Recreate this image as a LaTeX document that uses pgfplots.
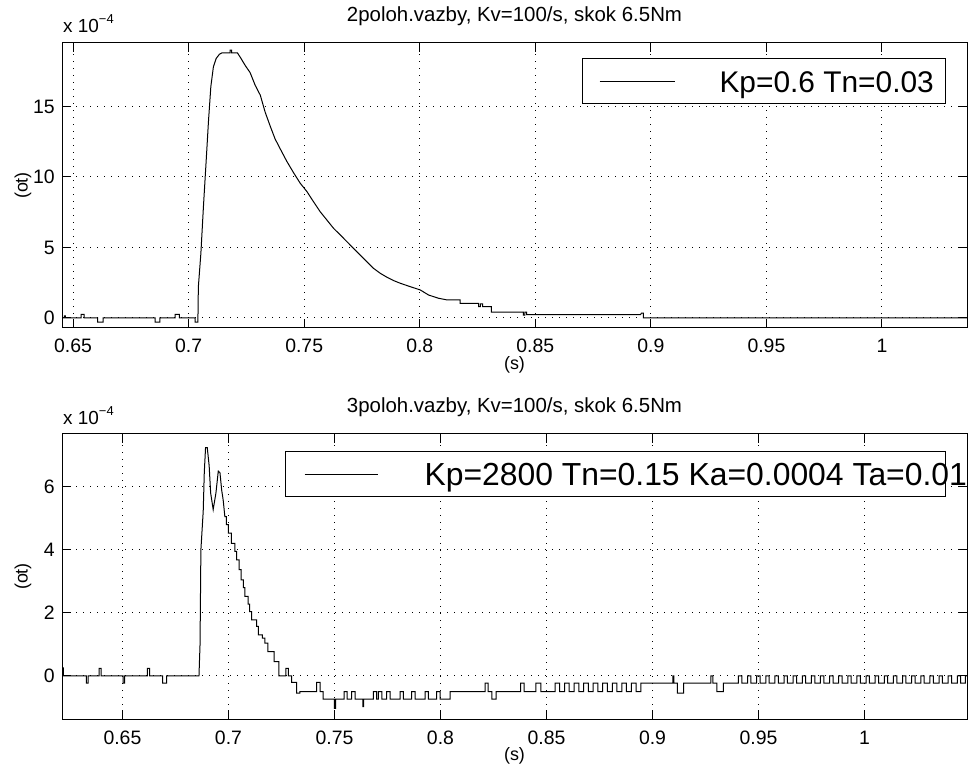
\documentclass[border=0pt]{standalone}
\usepackage{pgfplots}
\pgfplotsset{compat=1.18}
\usepackage{fontspec}
\setmainfont{Liberation Sans}
\newcommand\fs[1]{\fontsize{#1}{#1}\selectfont}

\pgfplotstableread{
x y
0.6452 0
0.6462 0
0.6462 0.15
0.6467 0.15
0.6467 0
0.6535 0
0.6535 0.25
0.6548 0.25
0.6548 0
0.6606 0
0.6606 -0.3
0.6630 -0.3
0.6630 0
0.6855 0
0.6855 -0.3
0.6875 -0.3
0.6875 0
0.6942 0
0.6942 0.25
0.6960 0.25
0.6960 0
0.7028 0
0.7028 -0.3
0.7040 -0.3
0.7042 2.2
0.7053 4.6
0.7064 7.9
0.7076 11.2
0.7086 14.0
0.7096 16.4
0.7107 17.8
0.7119 18.4
0.7133 18.7
0.7144 18.8
0.7180 18.8
0.7180 19.0
0.7186 19.0
0.7186 18.8
0.7211 18.8
0.7223 18.5
0.7245 17.9
0.7266 17.4
0.7288 16.5
0.7310 15.8
0.7331 14.6
0.7353 13.6
0.7374 12.7
0.7396 12.0
0.7425 11.1
0.7454 10.3
0.7483 9.55
0.7512 8.96
0.7540 8.25
0.7569 7.54
0.7598 6.95
0.7627 6.36
0.7656 5.89
0.7685 5.41
0.7713 4.94
0.7742 4.47
0.7771 3.99
0.7800 3.52
0.7829 3.17
0.7858 2.89
0.7887 2.65
0.7916 2.46
0.7959 2.22
0.8002 1.99
0.8038 1.63
0.8081 1.40
0.8118 1.28
0.8175 1.28
0.8175 1.04
0.8255 1.04
0.8255 0.80
0.8262 0.80
0.8262 1.00
0.8272 1.00
0.8272 0.80
0.8310 0.80
0.8310 0.42
0.8448 0.42
0.8448 0.20
0.8455 0.20
0.8455 0.42
0.8462 0.42
0.8462 0.24
0.8955 0.24
0.8960 0.35
0.8968 0.35
0.8968 0
1.0368 0
}\topdata

\pgfplotstableread{
x y
0.6215 0.25
0.6222 0.25
0.6222 0
0.6330 0
0.6330 -0.23
0.6338 -0.23
0.6338 0
0.6390 0
0.6390 0.24
0.6400 0.24
0.6400 0
0.6503 0
0.6503 -0.23
0.6510 -0.23
0.6510 0
0.6618 0
0.6618 0.24
0.6628 0.24
0.6628 0
0.6690 0
0.6690 -0.23
0.6708 -0.23
0.6708 0
0.6861 0
0.6866 1.0
0.6870 4.0
0.6881 5.23
0.6886 6.45
0.6892 7.25
0.6900 7.25
0.6909 6.67
0.6916 5.81
0.6928 5.28
0.6941 5.81
0.6952 6.5
0.6960 6.45
0.6968 5.90
0.6975 5.59
0.6983 5.06
0.6990 5.06
0.6990 4.80
0.7000 4.80
0.7000 4.53
0.7014 4.53
0.7014 4.21
0.7030 4.21
0.7030 3.95
0.7038 3.95
0.7038 3.68
0.7050 3.68
0.7050 3.37
0.7060 3.37
0.7060 3.05
0.7070 3.05
0.7070 2.80
0.7078 2.80
0.7078 2.52
0.7093 2.52
0.7093 2.28
0.7100 2.28
0.7100 2.04
0.7109 2.04
0.7109 1.78
0.7133 1.78
0.7133 1.57
0.7141 1.57
0.7141 1.30
0.7160 1.30
0.7160 1.20
0.7172 1.20
0.7172 1.04
0.7186 1.04
0.7186 0.77
0.7215 0.77
0.7215 0.45
0.7238 0.45
0.7238 0
0.7271 0
0.7271 0.24
0.7282 0.24
0.7282 0
0.7298 0
0.7298 -0.21
0.7322 -0.21
0.7322 -0.55
0.7337 -0.55
0.7337 -0.5
0.7416 -0.5
0.7416 -0.21
0.7432 -0.21
0.7432 -0.5
0.7447 -0.5
0.7447 -0.74
0.7500 -0.74
0.7500 -1.03
0.7505 -1.03
0.7505 -0.74
0.7545 -0.74
0.7545 -0.5
0.7560 -0.5
0.7560 -0.74
0.7581 -0.74
0.7581 -0.5
0.7597 -0.5
0.7597 -0.74
0.7634 -0.74
0.7634 -0.98
0.7638 -0.98
0.7638 -0.74
0.7683 -0.74
0.7683 -0.5
0.7699 -0.5
0.7699 -0.74
0.7707 -0.74
0.7707 -0.5
0.7723 -0.5
0.7723 -0.74
0.7746 -0.74
0.7746 -0.5
0.7762 -0.5
0.7762 -0.74
0.7809 -0.74
0.7809 -0.5
0.7825 -0.5
0.7825 -0.74
0.7864 -0.74
0.7864 -0.5
0.7880 -0.5
0.7880 -0.74
0.7927 -0.74
0.7927 -0.5
0.7943 -0.5
0.7943 -0.74
0.7982 -0.74
0.7982 -0.5
0.7998 -0.5
0.7998 -0.74
0.8045 -0.74
0.8045 -0.5
0.8210 -0.5
0.8210 -0.23
0.8224 -0.23
0.8224 -0.5
0.8242 -0.5
0.8242 -0.74
0.8262 -0.74
0.8262 -0.5
0.8378 -0.5
0.8378 -0.23
0.8394 -0.23
0.8394 -0.5
0.8450 -0.5
0.8450 -0.23
0.8473 -0.23
0.8473 -0.5
0.8540 -0.5
0.8540 -0.23
0.8562 -0.23
0.8562 -0.5
0.8585 -0.5
0.8585 -0.23
0.8607 -0.23
0.8607 -0.5
0.8630 -0.5
0.8630 -0.23
0.8652 -0.23
0.8652 -0.5
0.8675 -0.5
0.8675 -0.23
0.8697 -0.23
0.8697 -0.5
0.8720 -0.5
0.8720 -0.23
0.8742 -0.23
0.8742 -0.5
0.8765 -0.5
0.8765 -0.23
0.8787 -0.23
0.8787 -0.5
0.8810 -0.5
0.8810 -0.23
0.8832 -0.23
0.8832 -0.5
0.8855 -0.5
0.8855 -0.23
0.8877 -0.23
0.8877 -0.5
0.8900 -0.5
0.8900 -0.23
0.8922 -0.23
0.8922 -0.5
0.8945 -0.5
0.8945 -0.23
0.9096 -0.23
0.9096 0
0.9101 0
0.9101 -0.23
0.9117 -0.23
0.9117 -0.55
0.9147 -0.55
0.9147 -0.23
0.9275 -0.23
0.9275 0
0.9285 0
0.9285 -0.23
0.9303 -0.23
0.9303 -0.5
0.9334 -0.5
0.9334 -0.23
0.9405 -0.23
0.9405 0
0.9421 0
0.9421 -0.23
0.9448 -0.23
0.9448 0
0.9464 0
0.9464 -0.23
0.9491 -0.23
0.9491 0
0.9507 0
0.9507 -0.23
0.9534 -0.23
0.9534 0
0.9550 0
0.9550 -0.23
0.9577 -0.23
0.9577 0
0.9593 0
0.9593 -0.23
0.9620 -0.23
0.9620 0
0.9636 0
0.9636 -0.23
0.9663 -0.23
0.9663 0
0.9679 0
0.9679 -0.23
0.9706 -0.23
0.9706 0
0.9722 0
0.9722 -0.23
0.9749 -0.23
0.9749 0
0.9765 0
0.9765 -0.23
0.9792 -0.23
0.9792 0
0.9808 0
0.9808 -0.23
0.9835 -0.23
0.9835 0
0.9851 0
0.9851 -0.23
0.9878 -0.23
0.9878 0
0.9894 0
0.9894 -0.23
0.9921 -0.23
0.9921 0
0.9937 0
0.9937 -0.23
0.9964 -0.23
0.9964 0
0.9980 0
0.9980 -0.23
1.0007 -0.23
1.0007 0
1.0023 0
1.0023 -0.23
1.0050 -0.23
1.0050 0
1.0066 0
1.0066 -0.23
1.0093 -0.23
1.0093 0
1.0109 0
1.0109 -0.23
1.0136 -0.23
1.0136 0
1.0152 0
1.0152 -0.23
1.0179 -0.23
1.0179 0
1.0195 0
1.0195 -0.23
1.0222 -0.23
1.0222 0
1.0238 0
1.0238 -0.23
1.0265 -0.23
1.0265 0
1.0281 0
1.0281 -0.23
1.0308 -0.23
1.0308 0
1.0324 0
1.0324 -0.23
1.0351 -0.23
1.0351 0
1.0367 0
1.0367 -0.23
1.0394 -0.23
1.0394 0
1.0410 0
1.0410 -0.23
1.0437 -0.23
1.0437 0
1.0453 0
1.0453 -0.23
1.0475 -0.23
1.0475 0
1.0483 0
}\botdata

\pgfplotsset{
  matstyle/.style={
    scale only axis, width=905bp, height=285bp,
    anchor=south west,
    axis line style={line width=1bp, black},
    every tick/.style={line width=1bp, black},
    major tick length=9bp,
    tick align=inside,
    xtick pos=both, ytick pos=both,
    grid=major,
    major grid style={line width=1bp, black, dash pattern=on 1.4bp off 5.6bp},
    xtick={0.65,0.7,0.75,0.8,0.85,0.9,0.95,1},
    xticklabels={0.65,0.7,0.75,0.8,0.85,0.9,0.95,1},
    tick label style={font=\fs{19.5}},
    xticklabel style={anchor=base, yshift=-25bp},
    yticklabel style={anchor=east, inner sep=0bp, xshift=-7bp},
    label style={font=\fs{18}},
    xlabel={(s)},
    xlabel style={at={(axis description cs:0.5,-0.13)}, anchor=center},
    ylabel={(ot)},
    ylabel style={at={(axis description cs:-0.043,0.5)}, anchor=center},
    title style={at={(axis description cs:0.5,1.056)}, anchor=base, font=\fs{20.5}},
    legend image code/.code={},
    legend style={draw=black, line width=1bp, fill=white, inner sep=0bp,
      column sep=0bp,
      nodes={inner sep=0bp, text height=34bp, text depth=11bp, anchor=west},
      cells={anchor=west}},
  }
}

\begin{document}
\begin{tikzpicture}
\useasboundingbox (0bp,0bp) rectangle (972bp,767bp);

\begin{axis}[matstyle,
  at={(62bp,439bp)},
  xmin=0.6452, xmax=1.0368,
  ymin=-0.71, ymax=19.5,
  ytick={0,5,10,15}, yticklabels={0,5,10,15},
  title={2poloh.vazby, Kv=100/s, skok 6.5Nm},
  legend style={at={(axis description cs:0.9768,0.9474)}, anchor=north east},
]
\addplot[black, line width=1bp, no markers] table[x=x,y=y] {\topdata};
\addlegendentry{\hspace*{17bp}\rule[10.5bp]{75bp}{1bp}\hspace*{45bp}\makebox[226bp][l]{\fs{30}Kp=0.6 Tn=0.03}}
\end{axis}

\begin{axis}[matstyle,
  at={(62bp,48bp)},
  xmin=0.6215, xmax=1.0483,
  ymin=-1.37, ymax=7.68,
  ytick={0,2,4,6}, yticklabels={0,2,4,6},
  title={3poloh.vazby, Kv=100/s, skok 6.5Nm},
  legend style={at={(axis description cs:0.9768,0.9404)}, anchor=north east},
]
\addplot[black, line width=1bp, no markers] table[x=x,y=y] {\botdata};
\addlegendentry{\hspace*{19bp}\rule[10.5bp]{73bp}{1bp}\hspace*{47bp}\makebox[521bp][l]{\fs{32}Kp=2800 Tn=0.15 Ka=0.0004 Ta=0.01}}
\end{axis}

\node[anchor=base west, inner sep=0bp, font=\fs{19}] at (63bp,734bp) {x 10\raisebox{0.5em}{\fs{13}−4}};
\node[anchor=base west, inner sep=0bp, font=\fs{19}] at (63bp,342bp) {x 10\raisebox{0.5em}{\fs{13}−4}};
\end{tikzpicture}
\end{document}
